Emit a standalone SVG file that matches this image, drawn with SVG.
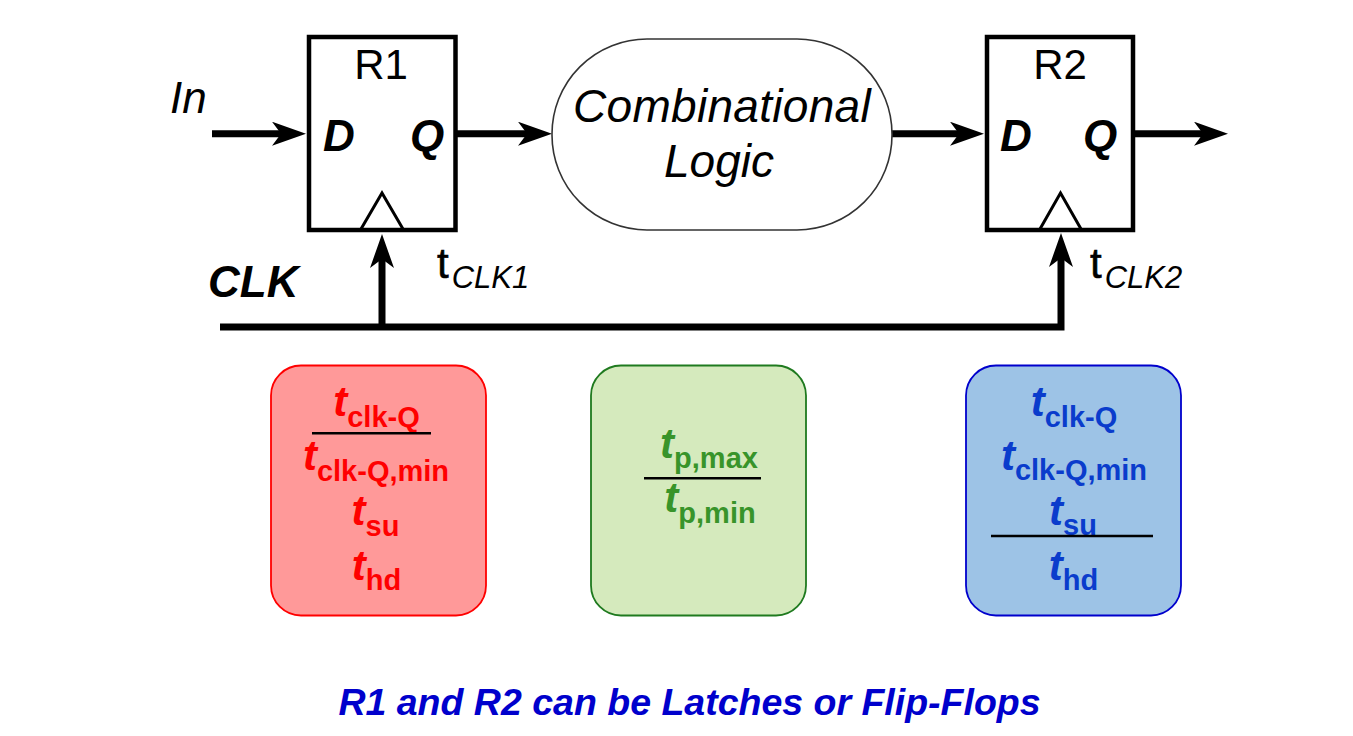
<svg xmlns="http://www.w3.org/2000/svg" width="1353" height="736" viewBox="0 0 1353 736">
<defs>
<style>
.box{fill:#fff;stroke:#000;stroke-width:4.5}
.clkt{fill:none;stroke:#000;stroke-width:3;stroke-linejoin:miter}
.wire{fill:none;stroke:#000;stroke-width:7}
.lbl{font-family:"Liberation Sans",Arial,sans-serif;fill:#000}
.pin{font-family:"Liberation Sans",Arial,sans-serif;font-weight:bold;font-style:italic;font-size:44px;fill:#000}
.tm{font-family:"Liberation Sans",Arial,sans-serif;font-weight:bold;text-anchor:middle}
.tb{font-style:italic;font-size:42px}
.ts{font-style:normal;font-size:29px}
.sep{stroke:#000;stroke-width:2.5}
</style>
<marker id="ah" viewBox="0 0 34 24" refX="9" refY="12" markerWidth="34" markerHeight="24" markerUnits="userSpaceOnUse" orient="auto">
<path d="M0,0 L34,12 L0,24 L9,12 Z" fill="#000"/>
</marker>
</defs>
<rect width="1353" height="736" fill="#fff"/>

<g id="connectors">
<path class="wire" d="M212,133.7 H281" marker-end="url(#ah)"/>
<path class="wire" d="M457,133.7 H527" marker-end="url(#ah)"/>
<path class="wire" d="M892,133.7 H959" marker-end="url(#ah)"/>
<path class="wire" d="M1135,133.7 H1203" marker-end="url(#ah)"/>
<path class="wire" d="M220,327 H1061 V258" marker-end="url(#ah)"/>
<path class="wire" d="M382,327 V259" marker-end="url(#ah)"/>
</g>

<g id="R1">
<rect class="box" x="309" y="37" width="146.5" height="193"/>
<polyline class="clkt" points="361,229 382,193 403,229"/>
<text class="lbl" x="381" y="79" font-size="42" text-anchor="middle">R1</text>
<text class="pin" x="323" y="151">D</text>
<text class="pin" x="410" y="151">Q</text>
</g>

<g id="combinational_logic">
<rect x="552" y="39" width="340" height="191" rx="95" ry="95" fill="#fff" stroke="#333" stroke-width="1.6"/>
<text class="lbl" x="722" y="121.7" font-size="46" font-style="italic" text-anchor="middle" letter-spacing="0.3">Combinational</text>
<text class="lbl" x="719" y="176.7" font-size="46" font-style="italic" text-anchor="middle">Logic</text>
</g>

<g id="R2">
<rect class="box" x="987" y="37" width="146" height="193"/>
<polyline class="clkt" points="1040,229 1060.5,193 1081,229"/>
<text class="lbl" x="1060" y="79" font-size="42" text-anchor="middle">R2</text>
<text class="pin" x="1000" y="151">D</text>
<text class="pin" x="1083" y="151">Q</text>
</g>

<g id="labels">
<text class="lbl" x="170" y="112.7" font-size="44" font-style="italic">In</text>
<text class="pin" x="208" y="296.7">CLK</text>
<text class="lbl" x="437" y="278"><tspan font-size="42" stroke="#000" stroke-width="0.6">t</tspan><tspan font-size="31" font-style="italic" dx="3" dy="10">CLK1</tspan></text>
<text class="lbl" x="1090" y="278"><tspan font-size="42" stroke="#000" stroke-width="0.6">t</tspan><tspan font-size="31" font-style="italic" dx="3" dy="10">CLK2</tspan></text>
</g>

<g id="R1_timing">
<rect x="271" y="365.5" width="215" height="250" rx="30" ry="30" fill="#ff9999" stroke="#ff0000" stroke-width="1.8"/>
<g fill="#ff0000">
<text class="tm" x="376.5" y="416"><tspan class="tb">t</tspan><tspan class="ts" dy="11">clk-Q</tspan></text>
<text class="tm" x="376" y="470"><tspan class="tb">t</tspan><tspan class="ts" dy="11">clk-Q,min</tspan></text>
<text class="tm" x="375.5" y="525"><tspan class="tb">t</tspan><tspan class="ts" dy="10.5">su</tspan></text>
<text class="tm" x="376.5" y="580"><tspan class="tb">t</tspan><tspan class="ts" dy="10">hd</tspan></text>
</g>
<line class="sep" x1="312" y1="433.3" x2="431" y2="433.3"/>
</g>

<g id="logic_timing">
<rect x="591" y="365.5" width="215" height="250" rx="30" ry="30" fill="#d5eabd" stroke="#1f7a1f" stroke-width="1.8"/>
<g fill="#38942a">
<text class="tm" x="709" y="458"><tspan class="tb">t</tspan><tspan class="ts" dy="10">p,max</tspan></text>
<text class="tm" x="710" y="512"><tspan class="tb">t</tspan><tspan class="ts" dy="10.5">p,min</tspan></text>
</g>
<line class="sep" x1="644" y1="478.3" x2="761" y2="478.3"/>
</g>

<g id="R2_timing">
<rect x="966" y="365.5" width="215" height="250" rx="30" ry="30" fill="#9dc3e6" stroke="#0000cc" stroke-width="1.8"/>
<g fill="#0a3ccc">
<text class="tm" x="1074" y="416"><tspan class="tb">t</tspan><tspan class="ts" dy="10.5">clk-Q</tspan></text>
<text class="tm" x="1074" y="470"><tspan class="tb">t</tspan><tspan class="ts" dy="10">clk-Q,min</tspan></text>
<text class="tm" x="1073" y="525"><tspan class="tb">t</tspan><tspan class="ts" dy="10">su</tspan></text>
<text class="tm" x="1073.5" y="580"><tspan class="tb">t</tspan><tspan class="ts" dy="10">hd</tspan></text>
</g>
<line class="sep" x1="991" y1="536" x2="1153" y2="536"/>
</g>

<text x="689.5" y="715" font-family="'Liberation Sans',Arial,sans-serif" font-weight="bold" font-style="italic" font-size="37.5" fill="#0000cc" text-anchor="middle">R1 and R2 can be Latches or Flip-Flops</text>
</svg>
